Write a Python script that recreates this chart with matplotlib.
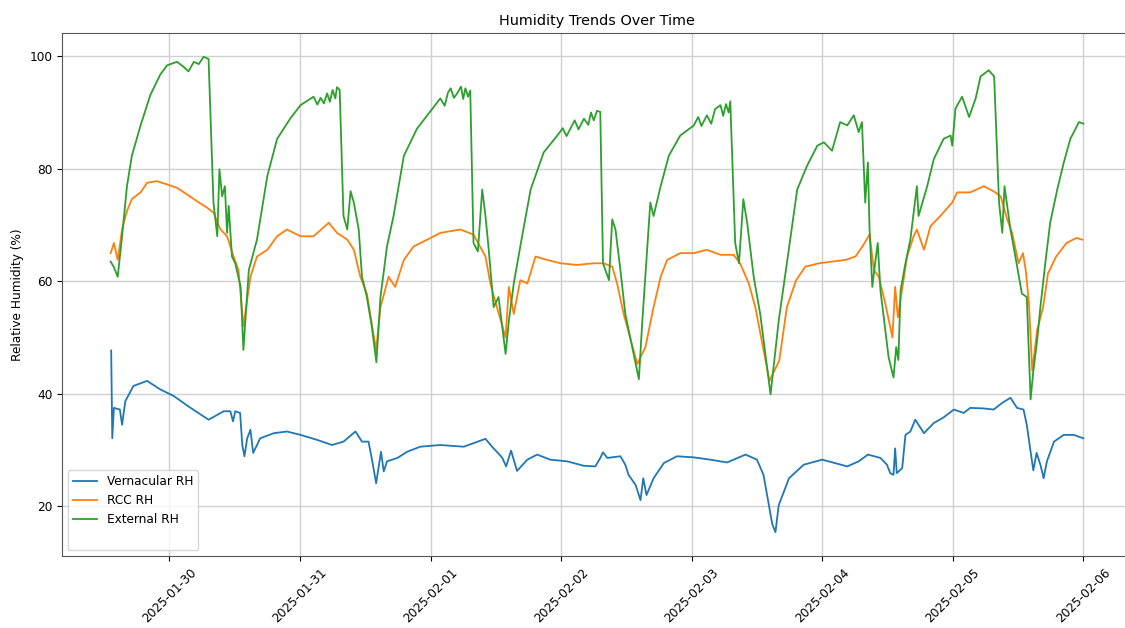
import numpy as np
import pandas as pd
import matplotlib
matplotlib.use('Agg')
import matplotlib.pyplot as plt
import matplotlib.dates as mdates

# hours after 2025-01-29 00:00
ext_hours = [13.2, 13.8, 14.5, 15.3, 16.2, 17.1, 18.7, 20.5, 22.3, 23.6, 25.4, 26.5, 27.5, 28.5, 29.4, 30.3, 31.2,
             32.1, 32.8, 33.2, 33.7, 34.2, 34.6, 34.9, 35.5, 36.1, 37.1, 37.6, 38.6, 40.1, 42.0, 43.8, 46.2, 48.1,
             50.5, 51.2, 51.8, 52.4, 53.0, 53.5, 54.0, 54.5, 54.8, 55.3, 56.0, 56.7, 57.3, 57.9, 58.8, 59.4, 60.3,
             61.2, 62.05, 62.8, 64.0, 65.2, 67.1, 69.5, 71.4, 73.8, 74.6, 75.2, 75.7, 76.3, 76.9, 77.6, 78.0, 78.4,
             78.9, 79.3, 79.9, 80.7, 81.5, 82.1, 82.7, 83.6, 84.5, 85.8, 86.4, 87.3, 88.5, 90.4, 92.8, 95.3, 96.3,
             97.0, 97.7, 98.5, 99.2, 100.2, 101.0, 101.5, 102.0, 102.6, 103.2, 103.7, 104.8, 105.4, 106.0, 106.9,
             107.8, 110.3, 110.9, 112.4, 113.0, 114.3, 115.8, 117.9, 120.4, 121.2, 121.8, 122.8, 123.6, 124.3,
             125.3, 125.8, 126.3, 126.8, 127.1, 128.0, 128.7, 129.5, 130.2, 131.4, 132.6, 134.5, 136.0, 137.5,
             139.4, 141.2, 143.1, 144.3, 145.8, 147.3, 148.6, 149.8, 150.7, 151.3, 151.9, 152.4, 152.7, 153.2,
             153.8, 154.2, 154.7, 156.2, 157.1, 157.6, 158.0, 158.4, 159.3, 160.2, 161.4, 161.7, 163.3, 164.5,
             166.3, 167.6, 167.9, 168.5, 169.7, 171.0, 172.2, 173.1, 174.6, 175.6, 176.5, 177.1, 177.5, 178.0,
             178.6, 179.5, 180.7, 181.6, 182.3, 182.8, 183.5, 184.1, 185.0, 185.9, 187.2, 188.4, 189.6, 191.2,
             192.0]
ext_rh = [63.5, 62.5, 60.8, 68.0, 76.9, 82.3, 87.7, 93.1, 96.7, 98.4, 99.0, 98.2, 97.3, 99.0, 98.6, 99.9, 99.5,
          74.0, 68.0, 79.9, 75.1, 76.9, 68.6, 73.4, 64.4, 63.2, 59.0, 47.8, 62.0, 67.4, 78.7, 85.3, 88.9, 91.3,
          92.8, 91.4, 92.6, 91.6, 93.4, 91.9, 94.0, 92.5, 94.5, 94.0, 71.6, 69.2, 76.0, 74.0, 69.2, 60.8, 57.2,
          52.0, 45.6, 57.2, 66.2, 71.6, 82.3, 87.1, 89.5, 92.5, 91.2, 93.5, 94.3, 92.6, 93.4, 94.6, 92.4, 94.3,
          92.8, 93.9, 66.8, 65.3, 76.3, 71.6, 65.6, 55.4, 57.2, 47.1, 53.0, 59.6, 66.2, 76.3, 82.9, 85.9, 87.2,
          85.8, 87.1, 88.6, 87.0, 88.9, 87.8, 90.0, 88.6, 90.3, 90.1, 63.2, 60.2, 71.0, 69.2, 62.0,
          54.2, 42.6, 52.5, 74.0, 71.6, 76.9, 82.3, 85.9, 87.7, 89.2, 87.6, 89.5, 88.0, 90.6,
          91.3, 89.4, 91.5, 90.0, 92.0, 66.8, 63.2, 74.6, 70.4, 60.8, 54.2, 39.9, 53.0, 63.2,
          76.3, 80.5, 84.1, 84.7, 83.2, 88.3, 87.7, 89.5, 86.5, 88.3, 74.0, 81.1, 69.2, 59.0,
          63.8, 66.8, 58.4, 46.5, 42.9, 48.3, 46.0, 58.4, 63.2, 67.4, 76.9, 71.6, 76.9, 81.7,
          85.3, 85.9, 84.1, 90.7, 92.8, 89.2, 92.5, 96.4, 97.5, 96.4, 74.0, 68.6, 76.9, 73.4,
          69.2, 64.4, 57.8, 57.2, 39.0, 44.0, 49.5, 55.4, 63.2, 70.4, 76.3, 81.1, 85.3, 88.3,
          88.0]

rcc_hours = [13.2, 13.8, 14.5, 15.3, 16.2, 17.1, 18.7, 19.9, 21.7, 23.6, 25.4, 27.3, 29.1, 30.9, 32.1, 33.4, 34.6,
             35.8, 36.7, 37.6, 38.9, 40.1, 42.0, 43.8, 45.6, 48.1, 50.5, 53.3, 54.8, 56.7, 57.9, 59.1, 60.3, 62.0,
             62.8, 64.3, 65.5, 67.1, 68.9, 71.4, 73.8, 77.5, 79.9, 82.1, 83.0, 84.2, 85.8, 86.4, 87.3, 88.5, 89.8,
             91.3, 93.4, 95.9, 98.9, 102.0, 103.8, 105.4, 106.3, 107.5, 110.0, 111.5, 113.0, 114.3, 115.5, 117.9,
             120.4, 122.8, 125.3, 127.7, 128.9, 130.5, 131.7, 134.3, 136.1, 137.5, 139.2, 140.9, 143.4, 145.8,
             148.3, 150.1, 151.4, 152.7, 153.5, 154.4, 155.6, 156.9, 157.4, 157.9, 159.6, 160.8, 161.4, 162.7,
             163.9, 165.7, 167.9, 168.8, 171.2, 173.7, 175.5, 176.8, 178.0, 178.9, 180.1, 180.9, 181.4, 182.0,
             182.6, 183.5, 184.6, 185.5, 187.0, 188.9, 190.7, 191.8]
rcc_rh = [65.0, 66.8, 63.8, 69.2, 72.5, 74.6, 75.8, 77.5, 77.8, 77.2, 76.6, 75.4, 74.2, 73.1, 72.2, 69.2, 68.0,
          64.4, 62.0, 52.0, 60.8, 64.4, 65.6, 68.0, 69.2, 68.0, 68.0, 70.4, 68.6, 67.4, 65.6, 60.8, 57.8, 47.7,
          55.4, 60.8, 59.0, 63.8, 66.2, 67.4, 68.6, 69.2, 68.3, 64.4, 59.6, 55.4, 50.0, 59.0, 54.2, 60.2, 59.6,
          64.4, 63.8, 63.2, 62.9, 63.2, 63.2, 62.6, 59.6, 54.2, 45.3, 48.3, 55.4, 60.8, 63.8, 65.0,
          65.0, 65.6, 64.7, 64.7, 63.2, 59.6, 55.4, 42.3, 45.9, 55.4, 60.2, 62.6, 63.2, 63.5,
          63.8, 64.4, 66.2, 68.3, 62.0, 60.8, 56.0, 50.0, 59.0, 53.6, 64.4, 68.0, 69.2, 65.6,
          69.8, 71.6, 74.0, 75.8, 75.8, 76.9, 76.0, 75.1, 71.0, 68.6, 63.2, 65.0, 62.0, 56.0,
          44.1, 51.3, 55.4, 61.4, 64.4, 66.8, 67.7, 67.4]

ver_hours = [13.3, 13.5, 13.8, 14.9, 15.3, 15.9, 17.4, 19.9, 22.3, 24.8, 27.9, 31.2, 34.0, 35.2, 35.7, 36.1, 37.0,
             37.4, 37.8, 38.3, 38.9, 39.4, 40.7, 43.2, 45.6, 48.1, 51.2, 53.9, 56.0, 58.2, 59.4, 60.6, 61.3, 62.0,
             62.9, 63.4, 64.0, 65.9, 67.7, 70.1, 73.8, 78.1, 82.1, 83.3, 84.2, 85.2, 85.9, 86.8, 87.9, 89.8, 91.6,
             94.0, 97.1, 100.2, 102.3, 103.2, 103.7, 104.5, 106.9, 107.8, 108.4, 109.7, 110.6, 111.1, 111.7, 113.0,
             114.9, 117.3, 120.4, 123.4, 126.5, 129.9, 132.0, 133.2, 134.2, 134.8, 135.4, 136.0, 137.9, 140.6,
             144.0, 148.6, 150.7, 152.4, 154.7, 155.9, 156.5, 157.1, 157.4, 157.7, 158.7, 159.3, 160.2, 161.1,
             162.7, 164.5, 166.3, 168.2, 170.0, 171.2, 173.7, 175.5, 177.1, 178.6, 179.8, 181.0, 181.6, 182.3,
             182.8, 183.4, 184.1, 184.7, 185.3, 186.6, 188.4, 190.2, 192.0]
ver_rh = [47.7, 32.1, 37.5, 37.2, 34.5, 38.7, 41.4, 42.3, 40.8, 39.6, 37.5, 35.4, 36.9, 36.9, 35.1, 36.9, 36.6,
          30.9, 28.9, 32.1, 33.6, 29.5, 32.1, 33.0, 33.3, 32.7, 31.8, 30.9, 31.5, 33.3, 31.5, 31.5, 28.0, 24.1,
          29.7, 26.2, 28.0, 28.6, 29.7, 30.6, 30.9, 30.6, 32.0, 30.6, 29.7, 28.6, 27.1, 29.9, 26.3, 28.3, 29.2,
          28.3, 28.0, 27.2, 27.1, 28.6, 29.6, 28.6, 28.9, 27.4, 25.6, 23.8, 21.1, 25.0, 22.0, 25.0,
          27.7, 28.9, 28.7, 28.3, 27.8, 29.2, 28.3, 25.6, 20.2, 16.9, 15.4, 20.2, 25.0, 27.4,
          28.3, 27.1, 28.0, 29.2, 28.6, 27.4, 25.9, 25.6, 30.3, 25.9, 26.8, 32.7, 33.3, 35.4,
          33.0, 34.8, 35.8, 37.2, 36.6, 37.5, 37.4, 37.2, 38.4, 39.3, 37.5, 37.2, 34.5, 29.7,
          26.4, 29.5, 27.4, 25.0, 28.0, 31.5, 32.7, 32.7, 32.1]

start = pd.Timestamp('2025-01-29')


def to_dates(hours):
    return start + pd.to_timedelta(hours, unit='h')


plt.rcParams['font.size'] = 8.7

fig = plt.figure(figsize=(11.25, 6.28), dpi=100)
ax = fig.add_axes([62/1125, 72/628, 1070/1125, 523/628])

ax.plot(to_dates(ver_hours), ver_rh, color='#1f77b4', lw=1.3, label='Vernacular RH')
ax.plot(to_dates(rcc_hours), rcc_rh, color='#ff7f0e', lw=1.3, label='RCC RH')
ax.plot(to_dates(ext_hours), ext_rh, color='#2ca02c', lw=1.3, label='External RH')
ax.plot([], [], color='none', label=' ')

ax.xaxis.set_major_locator(mdates.DayLocator())
ax.xaxis.set_major_formatter(mdates.DateFormatter('%Y-%m-%d'))
plt.setp(ax.get_xticklabels(), rotation=45)
ax.set_yticks([20, 40, 60, 80, 100])

ax.set_title('Humidity Trends Over Time', fontsize=10.4)
ax.set_ylabel('Relative Humidity (%)')
ax.grid(True, color='#d0d0d0', lw=1)
for s in ax.spines.values():
    s.set_color('#555555')
ax.legend(loc='lower left')

plt.savefig('out.png', dpi=100)
plt.close()
